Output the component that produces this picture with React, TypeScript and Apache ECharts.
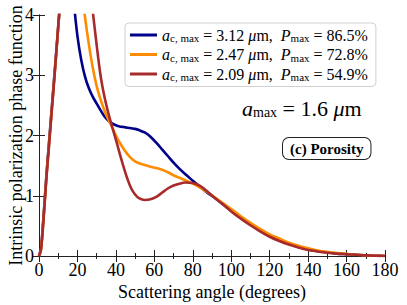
import React, { useEffect, useRef } from "react";
import * as echarts from "echarts";

// Scattering angle (degrees) shared by all series
const angles = [
  0, 1, 2, 3, 4, 5, 6, 7, 8, 9, 10, 11, 12, 14, 16, 18, 20, 22, 24, 26, 28, 30,
  32, 34, 36, 38, 40, 42, 44, 46, 48, 50, 52, 55, 58, 61, 64, 67, 70, 73, 76,
  80, 84, 88, 92, 96, 100, 105, 110, 115, 120, 125, 130, 135, 140, 145, 150,
  155, 160, 165, 170, 175, 180,
];

// a_c,max = 3.12 um, P_max = 86.5%
const blueValues = [
  0, 0.12, 0.5, 0.95, 1.4, 1.8, 2.2, 2.6, 3.0, 3.4, 3.8, 4.2, 4.6, 5.1, 5.0,
  4.25, 3.65, 3.25, 2.97, 2.78, 2.64, 2.53, 2.42, 2.32, 2.25, 2.2, 2.17, 2.15,
  2.14, 2.13, 2.12, 2.11, 2.09, 2.05, 1.98, 1.88, 1.77, 1.66, 1.55, 1.45, 1.36,
  1.25, 1.14, 1.04, 0.95, 0.85, 0.75, 0.63, 0.52, 0.42, 0.33, 0.26, 0.2, 0.15,
  0.11, 0.08, 0.06, 0.04, 0.03, 0.02, 0.01, 0.005, 0,
];

// a_c,max = 2.47 um, P_max = 72.8%
const orangeValues = [
  0, 0.1, 0.47, 0.92, 1.37, 1.77, 2.17, 2.57, 2.97, 3.37, 3.8, 4.2, 4.6, 5.3,
  5.6, 5.5, 5.1, 4.5, 3.95, 3.5, 3.12, 2.82, 2.6, 2.42, 2.27, 2.14, 2.0, 1.88,
  1.78, 1.69, 1.62, 1.57, 1.54, 1.51, 1.48, 1.46, 1.43, 1.39, 1.34, 1.3, 1.26,
  1.2, 1.13, 1.05, 0.96, 0.87, 0.78, 0.66, 0.55, 0.45, 0.36, 0.29, 0.22, 0.17,
  0.13, 0.09, 0.07, 0.05, 0.035, 0.02, 0.01, 0.005, 0,
];

// a_c,max = 2.09 um, P_max = 54.9%
const redValues = [
  0, 0.1, 0.45, 0.9, 1.35, 1.75, 2.15, 2.55, 2.95, 3.38, 3.82, 4.25, 4.7, 5.5,
  6.0, 6.2, 6.1, 5.7, 5.1, 4.55, 4.05, 3.5, 3.0, 2.65, 2.38, 2.15, 1.93, 1.7,
  1.48, 1.28, 1.12, 1.02, 0.96, 0.93, 0.94, 0.98, 1.05, 1.12, 1.17, 1.2, 1.22,
  1.21, 1.16, 1.06, 0.95, 0.85, 0.74, 0.62, 0.51, 0.41, 0.32, 0.25, 0.19, 0.14,
  0.1, 0.075, 0.055, 0.04, 0.03, 0.02, 0.01, 0.005, 0,
];

const acMax = ["3.12", "2.47", "2.09"];
const pMax = ["86.5%", "72.8%", "54.9%"];
const seriesColors = ["#00008b", "#ff8c00", "#a82a2a"];
const seriesValues = [blueValues, orangeValues, redValues];

const SERIF = "Liberation Serif";

export default function App() {
  const ref = useRef<HTMLDivElement>(null);

  useEffect(() => {
    if (!ref.current) return;
    const chart = echarts.init(ref.current, undefined, { renderer: "svg" });

    const names = acMax.map(
      (a, i) => `a_c,max = ${a} μm, P_max = ${pMax[i]}`
    );

    const series = seriesValues.map((vals, i) => ({
      name: names[i],
      type: "line",
      data: angles.map((a, j) => [a, vals[j]]),
      smooth: 0.3,
      symbol: "none",
      clip: true,
      lineStyle: { color: seriesColors[i], width: 2.6 },
      itemStyle: { color: seriesColors[i] },
      z: 2 + i,
    }));

    const axisLineStyle = { color: "#222", width: 1 };
    const labelText = { fontFamily: SERIF, fontSize: 18, color: "#000", fontWeight: "normal", fontStyle: "normal" };

    chart.setOption({
      animation: false,
      backgroundColor: "#fff",
      textStyle: { fontFamily: SERIF },
      grid: { left: 39, right: 22, top: 15, bottom: 49, containLabel: false, outerBoundsMode: "none" },
      legend: {
        show: true,
        orient: "vertical",
        left: 125,
        top: 23,
        padding: [4, 8, 4, 5],
        itemGap: 3,
        itemWidth: 27,
        itemHeight: 3,
        icon: "rect",
        backgroundColor: "#fff",
        borderColor: "#d0d0d0",
        borderWidth: 1,
        borderRadius: 4,
        data: names,
        formatter: (name: string) => {
          const i = names.indexOf(name);
          return `{it|a}{sub|c, max}{n| = ${acMax[i]} }{it|μ}{n|m,  }{it|P}{sub|max}{n| = ${pMax[i]}}`;
        },
        textStyle: {
          fontFamily: SERIF,
          fontSize: 16,
          color: "#000",
          rich: {
            it: { fontFamily: SERIF, fontStyle: "italic", fontSize: 16, lineHeight: 17, color: "#000" },
            n: { fontFamily: SERIF, fontStyle: "normal", fontSize: 16, lineHeight: 17, color: "#000" },
            sub: { fontFamily: SERIF, fontStyle: "normal", fontSize: 11, verticalAlign: "bottom", color: "#000" },
          },
        },
      },
      xAxis: [
        {
          type: "value",
          min: 0,
          max: 180,
          interval: 20,
          position: "bottom",
          name: "Scattering angle (degrees)",
          nameLocation: "middle",
          nameGap: 27,
          nameMoveOverlap: false,
          nameTextStyle: { ...labelText },
          axisLine: { show: true, lineStyle: axisLineStyle },
          axisTick: { show: true, inside: true, length: 6, lineStyle: axisLineStyle },
          minorTick: { show: true, splitNumber: 2, length: 3, lineStyle: axisLineStyle },
          axisLabel: { ...labelText, margin: 5 },
          splitLine: { show: false },
        },
        {
          type: "value",
          min: 0,
          max: 180,
          interval: 20,
          position: "top",
          axisLine: { show: true, lineStyle: axisLineStyle },
          axisTick: { show: true, inside: true, length: 6, lineStyle: axisLineStyle },
          minorTick: { show: true, splitNumber: 2, length: 3, lineStyle: axisLineStyle },
          axisLabel: { show: false },
          splitLine: { show: false },
        },
      ],
      yAxis: [
        {
          type: "value",
          min: 0,
          max: 4,
          interval: 1,
          position: "left",
          name: "Intrinsic polarization phase function",
          nameLocation: "middle",
          nameGap: 14,
          nameMoveOverlap: false,
          nameTextStyle: { ...labelText, fontSize: 18 },
          axisLine: { show: true, lineStyle: axisLineStyle },
          axisTick: { show: true, inside: true, length: 6, lineStyle: axisLineStyle },
          axisLabel: { ...labelText, margin: 5 },
          splitLine: { show: false },
        },
        {
          type: "value",
          min: 0,
          max: 4,
          interval: 1,
          position: "right",
          axisLine: { show: true, lineStyle: axisLineStyle },
          axisTick: { show: true, inside: true, length: 6, lineStyle: axisLineStyle },
          axisLabel: { show: false },
          splitLine: { show: false },
        },
      ],
      graphic: [
        {
          type: "text",
          left: 242,
          top: 97,
          z: 10,
          style: {
            text: "{it|a}{sub|max}{n| = 1.6 }{it|μ}{n|m}",
            fill: "#000",
            fontFamily: SERIF,
            rich: {
              it: { fontFamily: SERIF, fontStyle: "italic", fontSize: 22, lineHeight: 23, fill: "#000" },
              n: { fontFamily: SERIF, fontSize: 22, lineHeight: 23, fill: "#000" },
              sub: { fontFamily: SERIF, fontSize: 14, verticalAlign: "bottom", fill: "#000" },
            },
          },
        },
        {
          type: "text",
          left: 282,
          top: 137,
          z: 10,
          style: {
            text: "(c) Porosity",
            fontFamily: SERIF,
            fontSize: 15,
            fontWeight: "bold",
            fill: "#000",
            backgroundColor: "#fff",
            borderColor: "#222",
            borderWidth: 1,
            borderRadius: 6,
            padding: [3, 7, 3, 7],
          },
        },
      ],
      series,
    });

    return () => chart.dispose();
  }, []);

  return (
    <div
      ref={ref}
      style={{ position: "fixed", left: 0, top: 0, width: 407, height: 305 }}
    />
  );
}
